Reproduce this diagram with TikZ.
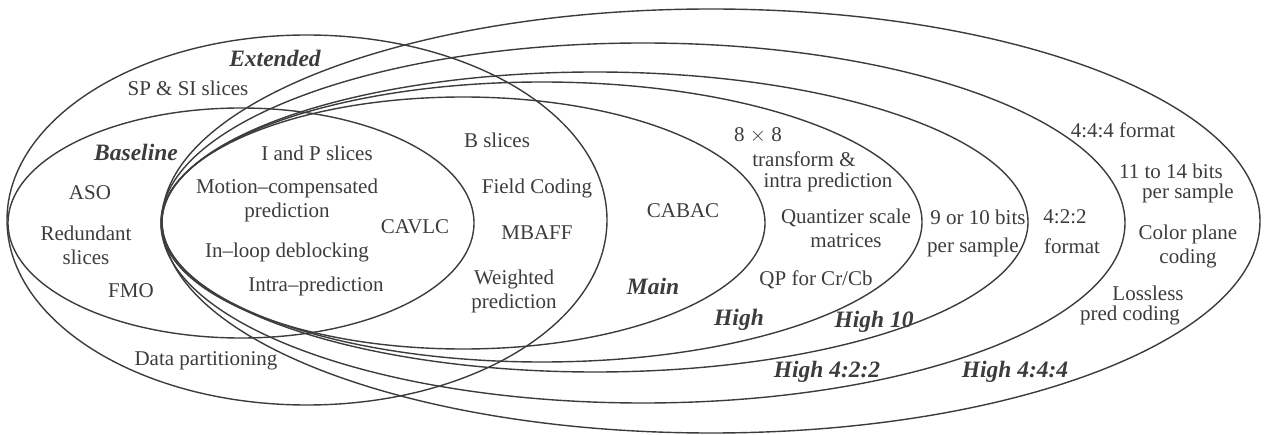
\documentclass[tikz,border=0pt]{standalone}
\usepackage{fontspec}
\setmainfont{Liberation Serif}
\definecolor{ink}{RGB}{60,60,60}
\tikzset{
  prof/.style={draw=ink, line width=1.4pt},
  feat/.style={text=ink, font=\fontsize{21}{24}\selectfont, inner sep=0pt, align=center},
  plabel/.style={text=ink, font=\fontsize{23.5}{27}\selectfont\bfseries\itshape, inner sep=0pt},
}
\begin{document}
\begin{tikzpicture}[x=1pt,y=-1pt]
\useasboundingbox (0,0) rectangle (1265,435);
% profile ellipses
\draw[prof] (307,220) ellipse [x radius=300pt, y radius=185pt]; % Extended
\draw[prof] (241,223) ellipse [x radius=233pt, y radius=115pt]; % Baseline
\draw[prof] (463,223) ellipse [x radius=302pt, y radius=126pt]; % Main
\draw[prof] (542,222) ellipse [x radius=380pt, y radius=140pt]; % High
\draw[prof] (595,222) ellipse [x radius=433pt, y radius=150pt]; % High 10
\draw[prof] (643,223) ellipse [x radius=482pt, y radius=180pt]; % High 4:2:2
\draw[prof] (711,221) ellipse [x radius=549pt, y radius=212pt]; % High 4:4:4

% profile labels
\node[plabel] (lext) at (275,58) {Extended};
\node[plabel] (lbase) at (136,152) {Baseline};
\node[plabel] (lmain) at (653,286) {Main};
\node[plabel] (lhigh) at (739,320) {High};
\node[plabel] (lhigh10) at (874,322) {High 10};
\node[plabel] (lhigh422) at (827,372) {High 4:2:2};
\node[plabel] (lhigh444) at (1015,372) {High 4:4:4};

% Extended only
\node[feat] (spsi) at (188,88) {SP \& SI slices};
\node[feat] (dp) at (206,361) {Data partitioning};
% Baseline only
\node[feat] (aso) at (90,193) {ASO};
\node[feat] (red) at (86,245) {Redundant\\slices};
\node[feat] (fmo) at (131,291) {FMO};
% common
\node[feat] (ip) at (317,153) {I and P slices};
\node[feat] (mc) at (287,200) {Motion\textendash compensated\\prediction};
\node[feat] (ild) at (287,252) {In\textendash loop deblocking};
\node[feat] (intra) at (316,286) {Intra\textendash prediction};
\node[feat] (cavlc) at (415,227) {CAVLC};
% Extended & Main
\node[feat] (bsl) at (497,140) {B slices};
\node[feat] (fc) at (537,188) {Field Coding};
\node[feat] (mbaff) at (537,233) {MBAFF};
\node[feat] (wp) at (514,291) {Weighted\\prediction};
% Main
\node[feat] (cabac) at (683,211) {CABAC};
% High
\node[feat] (e8) at (758,135) {8 $\times$ 8};
\node[feat] (tr) at (804,159) {transform \&};
\node[feat] (ipred) at (828,182) {intra prediction};
\node[feat] (qs) at (846,228) {Quantizer scale\\matrices};
\node[feat] (qp) at (816,280) {QP for Cr/Cb};
% High 10
\node[feat] (b910) at (978,217) {9 or 10 bits};
\node[feat] (ps1) at (973,247) {per sample};
% High 4:2:2
\node[feat] (f422) at (1065,217) {4:2:2};
\node[feat] (fmt) at (1072,246) {format};
% High 4:4:4
\node[feat] (f444) at (1123,130) {4:4:4 format};
\node[feat] (b1114) at (1171,171) {11 to 14 bits};
\node[feat] (ps2) at (1188,193) {per sample};
\node[feat] (cpc) at (1188,246) {Color plane\\coding};
\node[feat] (ll) at (1148,293) {Lossless};
\node[feat] (pc) at (1130,315) {pred coding};
\end{tikzpicture}
\end{document}
